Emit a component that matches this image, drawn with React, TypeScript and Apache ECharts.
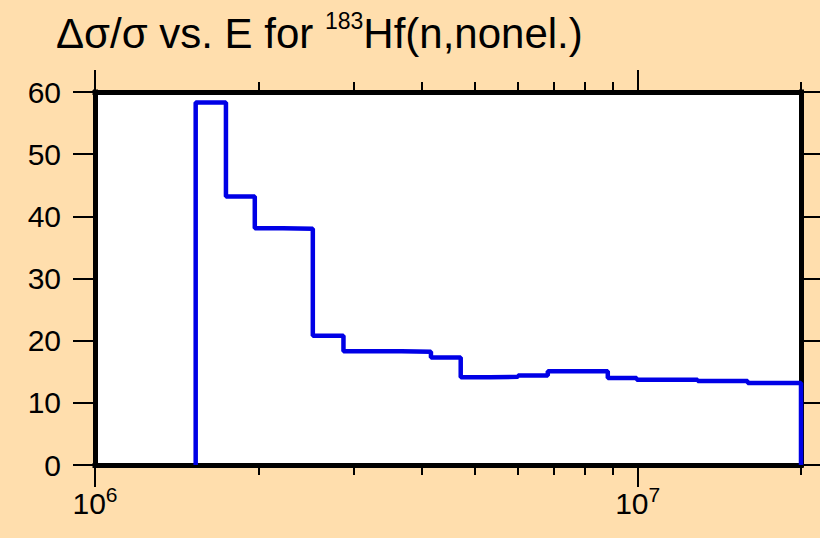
import React, { useEffect, useRef } from "react";
import * as echarts from "echarts";

// Group boundaries (eV) and relative uncertainty (%) per group
const edges = [1.533e6, 1.743e6, 1.97e6, 2.22e6, 2.52e6, 2.87e6, 3.23e6, 3.67e6, 4.16e6, 4.72e6, 5.34e6, 6.02e6, 6.83e6, 8.81e6, 9.96e6, 1.29e7, 1.595e7, 2.0e7];
const values = [58.3, 43.2, 38.1, 38.0, 20.8, 18.3, 18.3, 18.2, 17.3, 14.1, 14.2, 14.4, 15.1, 14.0, 13.7, 13.5, 13.2];

const majorTicks = [1e6, 1e7];
const minorTicks = [2e6, 3e6, 4e6, 5e6, 6e6, 7e6, 8e6, 9e6, 2e7];
const xMin = 1e6;
const xMax = 2e7;
const yTicksMax = 60;
const titleMain = "Δσ/σ vs. E for ";
const titleIso = "183";
const titleRest = "Hf(n,nonel.)";

const FONT = "'Liberation Sans', Arial, Helvetica, sans-serif";

export default function App() {
  const ref = useRef<HTMLDivElement>(null);
  useEffect(() => {
    document.body.style.margin = "0";
    if (!ref.current) return;
    const chart = echarts.init(ref.current, undefined, { renderer: "svg" });

    const data: [number, number][] = [[edges[0], 0]];
    for (let i = 0; i < values.length; i++) data.push([edges[i], values[i]]);
    data.push([edges[edges.length - 1], values[values.length - 1]]);
    data.push([edges[edges.length - 1], 0]);

    const axisLine = { show: true, lineStyle: { color: "#000", width: 5, cap: "square" } };
    const baseX = {
      type: "log",
      logBase: 10,
      min: xMin,
      max: xMax,
      gridIndex: 0,
      splitLine: { show: false },
      minorTick: { show: false },
    };
    const labelRich = {
      a: { fontSize: 30, lineHeight: 30, fontFamily: FONT, fontWeight: "normal", color: "#000", padding: [9, 0, 0, 0] },
      b: { fontSize: 21, lineHeight: 21, fontFamily: FONT, fontWeight: "normal", color: "#000", verticalAlign: "top" },
    };
    const tick = (vals: number[], len: number) => ({
      show: true,
      customValues: vals,
      interval: 0,
      length: len,
      inside: false,
      lineStyle: { color: "#000", width: 2 },
    });

    const option: any = {
      animation: false,
      backgroundColor: "#FFDEAD",
      title: {
        left: 51,
        top: 4,
        text: `{a|${titleMain}}{b|${titleIso}}{a|${titleRest}}`,
        textStyle: {
          fontWeight: "normal",
          rich: {
            a: { fontSize: 42, lineHeight: 42, fontFamily: FONT, fontWeight: "normal", color: "#000", padding: [6, 0, 0, 0] },
            b: { fontSize: 23, lineHeight: 23, fontFamily: FONT, fontWeight: "normal", color: "#000", verticalAlign: "top" },
          },
        },
      },
      grid: {
        left: 95,
        right: 19,
        top: 92,
        bottom: 73,
        show: true,
        backgroundColor: "#fff",
        borderWidth: 0,
      },
      xAxis: [
        {
          ...baseX,
          position: "bottom",
          axisLine,
          axisTick: tick(majorTicks, 22),
          axisLabel: {
            show: true,
            customValues: majorTicks,
            interval: 0,
            margin: 19,
            formatter: (v: number) => `{a|10}{b|${Math.round(Math.log10(v))}}`,
            rich: labelRich,
          },
        },
        {
          ...baseX,
          position: "bottom",
          axisLine: { show: false },
          axisTick: tick(minorTicks, 10),
          axisLabel: { show: false },
        },
        {
          ...baseX,
          position: "top",
          axisLine,
          axisTick: tick(majorTicks, 22),
          axisLabel: { show: false },
        },
        {
          ...baseX,
          position: "top",
          axisLine: { show: false },
          axisTick: tick(minorTicks, 10),
          axisLabel: { show: false },
        },
      ],
      yAxis: [
        {
          type: "value",
          min: 0,
          max: yTicksMax,
          interval: 10,
          position: "left",
          axisLine,
          splitLine: { show: false },
          axisTick: { show: true, length: 22, inside: false, lineStyle: { color: "#000", width: 2 } },
          axisLabel: { show: true, margin: 34, fontSize: 30, fontFamily: FONT, color: "#000" },
        },
        {
          type: "value",
          min: 0,
          max: yTicksMax,
          interval: 10,
          position: "right",
          axisLine,
          splitLine: { show: false },
          axisTick: { show: true, length: 22, inside: false, lineStyle: { color: "#000", width: 2 } },
          axisLabel: { show: false },
        },
      ],
      series: [
        {
          type: "line",
          xAxisIndex: 0,
          yAxisIndex: 0,
          step: "end",
          data,
          showSymbol: false,
          symbol: "none",
          clip: false,
          lineStyle: { color: "#0000E6", width: 4.5 },
          z: 1,
        },
      ],
    };
    chart.setOption(option);
    return () => chart.dispose();
  }, []);
  return <div ref={ref} style={{ width: 820, height: 538 }} />;
}
